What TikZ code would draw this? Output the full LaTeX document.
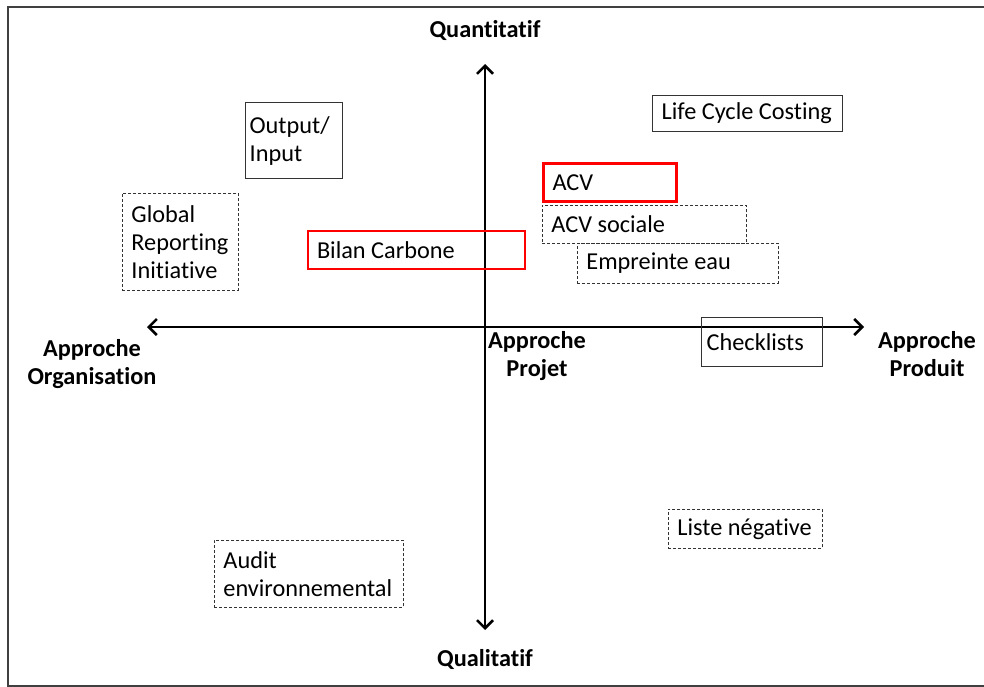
\documentclass[tikz,border=0pt]{standalone}
\usepackage{fontspec}
\setmainfont[Ligatures=NoCommon]{Carlito}
\usetikzlibrary{arrows.meta,positioning}
\tikzset{every node/.style={font=\fontsize{24.3}{28}\selectfont}}

\begin{document}
\begin{tikzpicture}[
    x=1pt, y=-1pt,
    tool/.style={
        draw=black!80,
        line width=1.3pt,
        anchor=north west,
        align=flush left,
        inner xsep=9pt,
        inner ysep=0pt
        },
    toolrough/.style={
        tool,
        line width=0.9pt,
        dash pattern=on 3pt off 2pt
        },
    toolkey/.style={
        tool,
        draw=red,
        line width=2pt
        },
    axislabel/.style={
        align=center,
        font=\fontsize{24.3}{28}\selectfont\bfseries
        },
    axis/.style={
        line width=2.8pt,
        {Straight Barb[length=8pt,width=16pt,line width=2.5pt]}-{Straight Barb[length=8pt,width=16pt,line width=2.5pt]}
        }
  ]
  \useasboundingbox (0,0) rectangle (984,687);
  % Frame
  \draw[line width=2pt, black!75] (984,7) -- (8,7) -- (8,686) -- (984,686);
  % Axes
  \coordinate (orga) at (147,327);
  \coordinate (produit) at (864,327);
  \coordinate (quanti) at (485,64);
  \coordinate (quali) at (485,630);
  \draw[axis] (orga) -- (produit);
  \draw[axis] (quali) -- (quanti);
  % Axis labels
  \node[axislabel] (lquanti) at (485,31) {Quantitatif};
  \node[axislabel] (lquali) at (485,659) {Qualitatif};
  \node[axislabel] (lorga) at (92,364) {Approche\\Organisation};
  \node[axislabel] (lprojet) at (537,356) {Approche\\Projet};
  \node[axislabel] (lproduit) at (927,354) {Approche\\Produit};
  % Methods
  \node[tool, inner xsep=4pt, text width=89pt, minimum height=76pt] (outin) at (245,102) {Output/\\Input};
  \node[toolrough, text width=98pt, minimum height=97pt] (gri) at (122,193) {Global\\Reporting\\Initiative};
  \node[toolkey, text width=199pt, minimum height=38pt] (bilan) at (307,230) {Bilan Carbone};
  \node[tool, text width=172pt, minimum height=36pt] (lcc) at (652,95) {Life Cycle Costing};
  \node[toolkey, line width=3pt, text width=115pt, minimum height=38pt] (acv) at (542,162) {ACV};
  \node[toolrough, text width=186pt, minimum height=38pt] (acvsoc) at (542,205) {ACV sociale};
  \node[toolrough, text width=183pt, minimum height=40pt] (eau) at (577,243) {Empreinte eau};
  \node[tool, inner xsep=5pt, text width=111pt, minimum height=49pt] (check) at (701,317) {Checklists};
  \node[toolrough, text width=136pt, minimum height=39pt] (liste) at (668,509) {Liste négative};
  \node[toolrough, text width=171pt, minimum height=67pt] (audit) at (214,540) {Audit\\environnemental};
\end{tikzpicture}
\end{document}
